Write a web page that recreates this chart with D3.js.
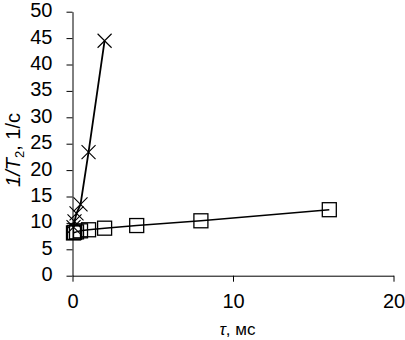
<!DOCTYPE html>
<html>
<head>
<meta charset="utf-8">
<script src="https://cdn.jsdelivr.net/npm/d3@7"></script>
<style>
  body { margin: 0; background: #fff; }
  svg { display: block; font-family: "Liberation Sans", Arial, sans-serif; }
</style>
</head>
<body>
<div id="chart"></div>
<script>
// values
const tauSquares = [0.0625, 0.125, 0.25, 0.5, 1, 2, 4, 8, 16];
const rateSquares = [8.1, 8.2, 8.3, 8.5, 8.7, 9.0, 9.5, 10.4, 12.5];
const tauCrosses = [0.0625, 0.125, 0.25, 0.5, 1, 2];
const rateCrosses = [9.2, 10.3, 11.8, 13.5, 23.4, 44.5];
const xTicks = [0, 10, 20];
const yTicks = [0, 5, 10, 15, 20, 25, 30, 35, 40, 45, 50];

const renderedWidth = 405;
const renderedHeight = 340;
const margin = { top: 11.7, right: 11.5, bottom: 64.3, left: 72.5 };
const width = renderedWidth - margin.left - margin.right;
const height = renderedHeight - margin.top - margin.bottom;

const svg = d3.select('#chart').append('svg')
  .attr('width', renderedWidth)
  .attr('height', renderedHeight);

const g = svg.append('g').attr('transform', 'translate(' + margin.left + ',' + margin.top + ')');

const x = d3.scaleLinear().domain([0, 20]).range([0, width]);
const y = d3.scaleLinear().domain([0, 50]).range([height, 0]);

// axes
const xAxis = g.append('g')
  .attr('transform', 'translate(0,' + height + ')')
  .call(d3.axisBottom(x).tickValues(xTicks).tickSize(6).tickSizeOuter(0).tickPadding(12));

const yAxis = g.append('g')
  .call(d3.axisLeft(y).tickValues(yTicks).tickSize(6).tickSizeOuter(0).tickPadding(14));

[xAxis, yAxis].forEach(function(a) {
  a.selectAll('text').attr('font-size', 20).attr('font-family', '"Liberation Sans", Arial, sans-serif').attr('fill', '#000');
  a.selectAll('line, path').attr('stroke', '#000').attr('stroke-width', 1);
});
yAxis.selectAll('text').attr('dy', '0.25em');

const line = d3.line()
  .x(function(d) { return x(d[0]); })
  .y(function(d) { return y(d[1]); });

const squares = tauSquares.map(function(t, i) { return [t, rateSquares[i]]; });
const crosses = tauCrosses.map(function(t, i) { return [t, rateCrosses[i]]; });

g.append('path')
  .datum(squares)
  .attr('d', line)
  .attr('fill', 'none')
  .attr('stroke', '#000')
  .attr('stroke-width', 1.5);

g.append('path')
  .datum(crosses)
  .attr('d', line)
  .attr('fill', 'none')
  .attr('stroke', '#000')
  .attr('stroke-width', 1.8);

const sq = 14;
g.append('g').selectAll('rect')
  .data(squares)
  .enter().append('rect')
  .attr('x', function(d) { return x(d[0]) - sq / 2; })
  .attr('y', function(d) { return y(d[1]) - sq / 2; })
  .attr('width', sq)
  .attr('height', sq)
  .attr('fill', 'none')
  .attr('stroke', '#000')
  .attr('stroke-width', 1.3);

const cr = 7;
g.append('g').selectAll('path')
  .data(crosses)
  .enter().append('path')
  .attr('d', function(d) {
    const cx = x(d[0]), cy = y(d[1]);
    return 'M' + (cx - cr) + ',' + (cy - cr) + 'L' + (cx + cr) + ',' + (cy + cr) +
      'M' + (cx - cr) + ',' + (cy + cr) + 'L' + (cx + cr) + ',' + (cy - cr);
  })
  .attr('fill', 'none')
  .attr('stroke', '#000')
  .attr('stroke-width', 1.1);

// axis titles
const xTitle = svg.append('text')
  .attr('x', 237.5)
  .attr('y', 335)
  .attr('text-anchor', 'middle')
  .attr('font-size', 17);
xTitle.append('tspan').attr('font-style', 'italic').text('τ');
xTitle.append('tspan').text(', мс');

const yTitle = svg.append('text')
  .attr('transform', 'translate(20,150) rotate(-90)')
  .attr('text-anchor', 'middle')
  .attr('font-size', 20);
yTitle.append('tspan').attr('font-style', 'italic').text('1/T');
yTitle.append('tspan').attr('font-size', 13).attr('dy', 4).text('2');
yTitle.append('tspan').attr('dy', -4).text(', 1/c');
</script>
</body>
</html>
